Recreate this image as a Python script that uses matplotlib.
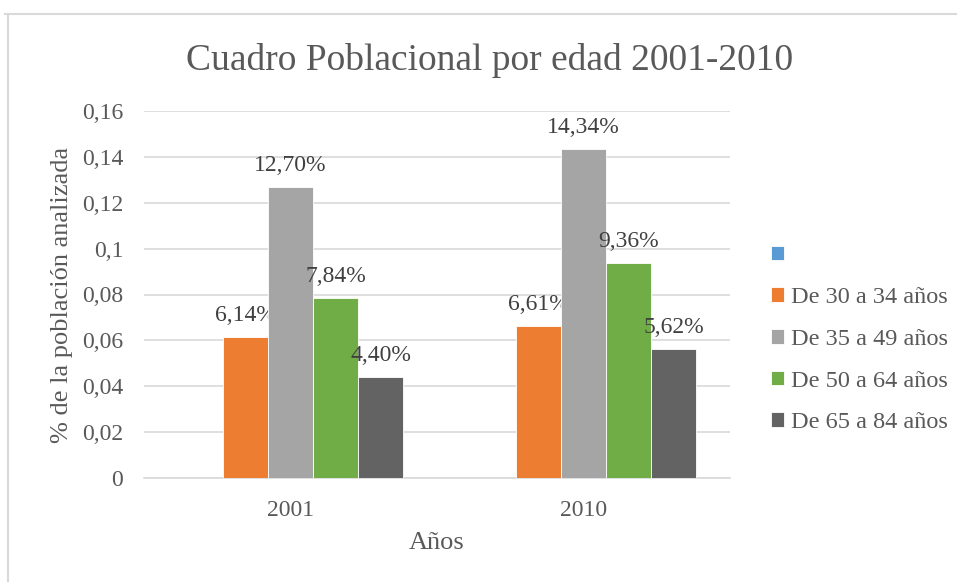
import matplotlib
matplotlib.use("Agg")
from matplotlib import pyplot as plt
from matplotlib.lines import Line2D
from matplotlib.ticker import FuncFormatter, MultipleLocator
import numpy as np

years = ["2001", "2010"]
series_names = ["", "De 30 a 34 años", "De 35 a 49 años", "De 50 a 64 años", "De 65 a 84 años"]
blank = [0.0, 0.0]
age_30_34 = [0.0614, 0.0661]
age_35_49 = [0.1270, 0.1434]
age_50_64 = [0.0784, 0.0936]
age_65_84 = [0.0440, 0.0562]
series_vals = [blank, age_30_34, age_35_49, age_50_64, age_65_84]
colors = ["#5B9BD5", "#ED7D31", "#A5A5A5", "#70AD47", "#636363"]

txt = "#595959"
plt.rcParams['font.family'] = ['Liberation Serif', 'DejaVu Serif']

fig = plt.figure(figsize=(9.57, 5.82), dpi=100)
ax = fig.add_axes([144/957, 1 - 478/582, 586/957, 367/582])

x = np.arange(len(years))
w = 0.1536
handles = []
for i, (name, vals, c) in enumerate(zip(series_names, series_vals, colors)):
    pos = x + (i - 2) * w
    bars = ax.bar(pos, vals, w, color=c, edgecolor="white", linewidth=0.6, zorder=3)
    handles.append(bars)
    if name == "":
        continue
    for px, v in zip(pos, vals):
        ax.annotate(f"{v*100:.2f}%".replace(".", ","), (px, v), xytext=(0, 8),
                    textcoords="offset points", ha="center", va="bottom",
                    fontsize=17, color="#404040")

ax.set_xlim(-0.5, 1.5)
ax.set_ylim(0, 0.16)
ax.yaxis.set_major_locator(MultipleLocator(0.02))

def fmt(v, p):
    s = f"{v:.2f}".rstrip("0").rstrip(".")
    return s.replace(".", ",")

ax.yaxis.set_major_formatter(FuncFormatter(fmt))
ax.set_xticks(x)
ax.set_xticklabels(years)
ax.tick_params(axis="both", length=0, labelsize=17, labelcolor=txt)
ax.tick_params(axis="x", pad=16)
ax.tick_params(axis="y", pad=15)
ax.grid(axis="y", color="#D9D9D9", linewidth=1.2, zorder=0)
for s in ["top", "right", "left"]:
    ax.spines[s].set_visible(False)
ax.spines["bottom"].set_color("#D9D9D9")
ax.spines["bottom"].set_linewidth(1.2)

ax.set_xlabel("Años", fontsize=19, color=txt, labelpad=8)
ax.set_ylabel("% de la población analizada", fontsize=19, color=txt, labelpad=6)

fig.text(490/957, 1 - 61/582, "Cuadro Poblacional por edad 2001-2010",
         ha="center", va="center", fontsize=27, color=txt)

fig.legend(handles, series_names, loc="upper left", bbox_to_anchor=(761/957, 1 - 236/582),
           frameon=False, fontsize=17.5, labelcolor=txt, handlelength=0.55, handleheight=0.55,
           handletextpad=0.3, labelspacing=0.85, borderaxespad=0)

fig.add_artist(Line2D([5/957, 1], [1 - 14/582, 1 - 14/582], color="#D9D9D9", linewidth=1.5))
fig.add_artist(Line2D([8/957, 8/957], [0, 1 - 14/582], color="#D9D9D9", linewidth=1.5))

fig.savefig("out.png", dpi=100)
